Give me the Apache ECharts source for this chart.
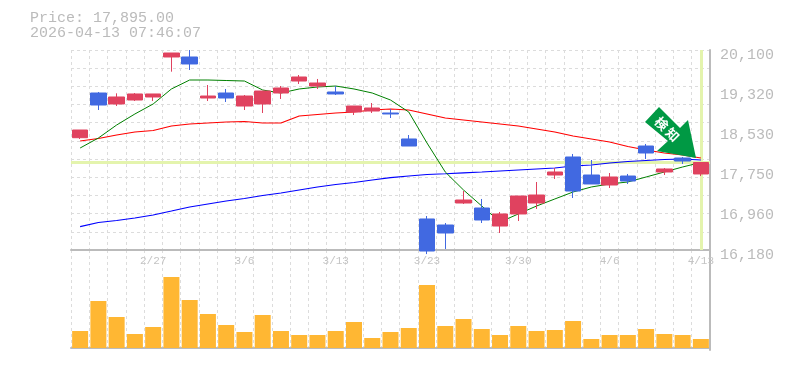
<!DOCTYPE html>
<html><head><meta charset="utf-8">
<style>html,body{margin:0;padding:0;background:#fff}#c{width:785px;height:370px}</style>
<script src="https://cdn.jsdelivr.net/npm/echarts@6/dist/echarts.min.js"></script>
</head><body><div id="c"></div>
<script>
const dates=['2/20','2/24','2/25','2/26','2/27','3/2','3/3','3/4','3/5','3/6','3/9','3/10','3/11','3/12','3/13','3/16','3/17','3/18','3/19','3/23','3/24','3/25','3/26','3/27','3/30','3/31','4/1','4/2','4/3','4/6','4/7','4/8','4/9','4/10','4/13'];
const opens=[18381,19257,19042,19120,19179,19963,19963,19159,19257,19002,19042,19257,19492,19394,19277,18885,18904,18865,18356,16788,16670,17101,17003,16650,16886,17101,17650,18003,17650,17454,17630,18218,17709,17983,17670];
const closes=[18532,19022,19179,19238,19238,20041,19826,19198,19159,19198,19296,19355,19571,19453,19238,19002,18963,18846,18218,16160,16513,17160,16768,16886,17238,17258,17709,17336,17474,17611,17532,18081,17768,17924,17895];
const lows=[18356,18924,19002,19100,19100,19675,19708,19100,19081,18924,18865,19140,19434,19336,19218,18826,18865,18767,18218,16100,16200,17082,16709,16513,16748,16984,17572,17199,17474,17395,17474,17964,17650,17866,17630];
const highs=[18532,19277,19251,19257,19238,20041,20100,19414,19336,19218,19296,19394,19610,19532,19394,19002,19061,18944,18434,16846,16709,17336,17180,16925,17238,17513,17787,18062,17944,17689,17670,18258,17787,18003,17895];
const maShort=[18179,18375,18630,18846,19042,19336,19512,19512,19502,19492,19316,19257,19336,19375,19394,19336,19257,19120,18885,18277,17709,17356,17042,16729,16886,17042,17180,17317,17415,17474,17513,17611,17709,17807,17895];
const maMid=[18316,18365,18434,18493,18522,18610,18650,18669,18689,18699,18669,18669,18806,18836,18865,18885,18924,18944,18924,18846,18767,18728,18689,18650,18610,18552,18493,18414,18356,18297,18209,18140,18081,18042,17983];
const maLong=[16637,16719,16758,16807,16866,16944,17023,17082,17140,17189,17248,17297,17356,17415,17464,17503,17552,17597,17630,17660,17675,17693,17709,17728,17748,17768,17787,17826,17846,17885,17915,17934,17954,17964,17944];
const volumes=[17,47,31,14,21,71,48,34,23,16,33,17,13,13,17,26,10,16,20,63,22,29,19,13,22,17,18,27,9,13,13,19,14,13,9];
const priceTicks=['16,180','16,960','17,750','18,530','19,320','20,100'];
const lastPrice=17895;
const priceText='Price: 17,895.00';
const stampText='2026-04-13 07:46:07';
const arrowText='検\u2009知';
const mono='"Liberation Mono", monospace';
const dash={type:[3,3],color:'#dcdcdc',width:1};
const chart=echarts.init(document.getElementById('c'),null,{renderer:'canvas'});
chart.setOption({
  animation:false,
  backgroundColor:'#fff',
  textStyle:{fontFamily:mono},
  title:[
    {text:priceText,left:30,top:11,padding:0,textStyle:{fontFamily:mono,fontSize:15,fontWeight:'normal',color:'#bbbbbb'}},
    {text:stampText,left:30,top:26,padding:0,textStyle:{fontFamily:mono,fontSize:15,fontWeight:'normal',color:'#bbbbbb'}}
  ],
  grid:[
    {left:71,top:50,width:639,height:200},
    {left:71,top:250,width:639,height:100}
  ],
  xAxis:[
    {type:'category',gridIndex:0,data:dates,boundaryGap:true,
     axisLine:{lineStyle:{color:'#bbb',width:2}},axisTick:{show:false},
     splitLine:{show:true,interval:0,lineStyle:dash},
     axisLabel:{interval:(i)=>(34-i)%5===0,color:'#c4c4c4',fontSize:11,margin:6,hideOverlap:false,fontFamily:mono}},
    {type:'category',gridIndex:1,data:dates,boundaryGap:true,
     axisLine:{lineStyle:{color:'#bbb',width:2}},axisTick:{show:false},
     splitLine:{show:true,interval:0,lineStyle:dash},axisLabel:{show:false}}
  ],
  yAxis:[
    {type:'value',gridIndex:0,min:16180,max:20100,show:false,scale:true,splitLine:{show:false}},
    {type:'value',gridIndex:0,min:0,max:5,interval:1,position:'right',
     axisLine:{show:true,lineStyle:{color:'#bbb',width:2}},axisTick:{show:false},splitLine:{show:false},
     axisLabel:{color:'#bbbbbb',fontSize:15,margin:10,fontFamily:mono,verticalAlign:'top',padding:[-2,0,0,0],
       formatter:(v)=>priceTicks[v]}},
    {type:'value',gridIndex:0,min:0,max:11,interval:1,show:true,position:'left',
     axisLine:{show:false},axisTick:{show:false},axisLabel:{show:false},splitLine:{show:true,lineStyle:dash}},
    {type:'value',gridIndex:1,min:-2,max:98,position:'right',
     axisLine:{show:true,lineStyle:{color:'#bbb',width:2}},axisTick:{show:false},axisLabel:{show:false},splitLine:{show:false}}
  ],
  series:[
    {type:'line',xAxisIndex:0,yAxisIndex:0,data:[],z:1,silent:true,
     markLine:{z:1,silent:true,symbol:'none',label:{show:false},animation:false,
       lineStyle:{color:'#e4f4ad',width:3,type:'solid'},
       data:[{yAxis:lastPrice},{xAxis:dates[dates.length-1]}]}},
    {type:'line',xAxisIndex:0,yAxisIndex:0,z:2,data:maMid,symbol:'none',lineStyle:{color:'#ff0000',width:1.2}},
    {type:'line',xAxisIndex:0,yAxisIndex:0,z:2,data:maLong,symbol:'none',lineStyle:{color:'#0000ff',width:1.2}},
    {type:'line',xAxisIndex:0,yAxisIndex:0,z:2,data:maShort,symbol:'none',lineStyle:{color:'#008000',width:1}},
    {type:'candlestick',xAxisIndex:0,yAxisIndex:0,z:3,barWidth:16,clip:true,
     data:dates.map((_,i)=>[opens[i],closes[i],lows[i],highs[i]]),
     itemStyle:{color:'#e0425f',color0:'#4169e1',borderColor:'#e0425f',borderColor0:'#4169e1',borderWidth:1}},
    {type:'bar',xAxisIndex:1,yAxisIndex:3,z:2,barWidth:16,data:volumes,itemStyle:{color:'#ffb733'}}
  ],
  graphic:[
    {type:'polygon',z:100,shape:{points:[[659,107],[645,122],[668,141],[657,151],[696,158],[688,120],[680,128]]},style:{fill:'#009944'}},
    {type:'text',z:101,x:667,y:129,rotation:-Math.PI/4,style:{text:arrowText,fill:'#fff',font:'bold 13px "Noto Sans CJK JP"',textAlign:'center',textVerticalAlign:'middle'}}
  ]
});
</script></body></html>
